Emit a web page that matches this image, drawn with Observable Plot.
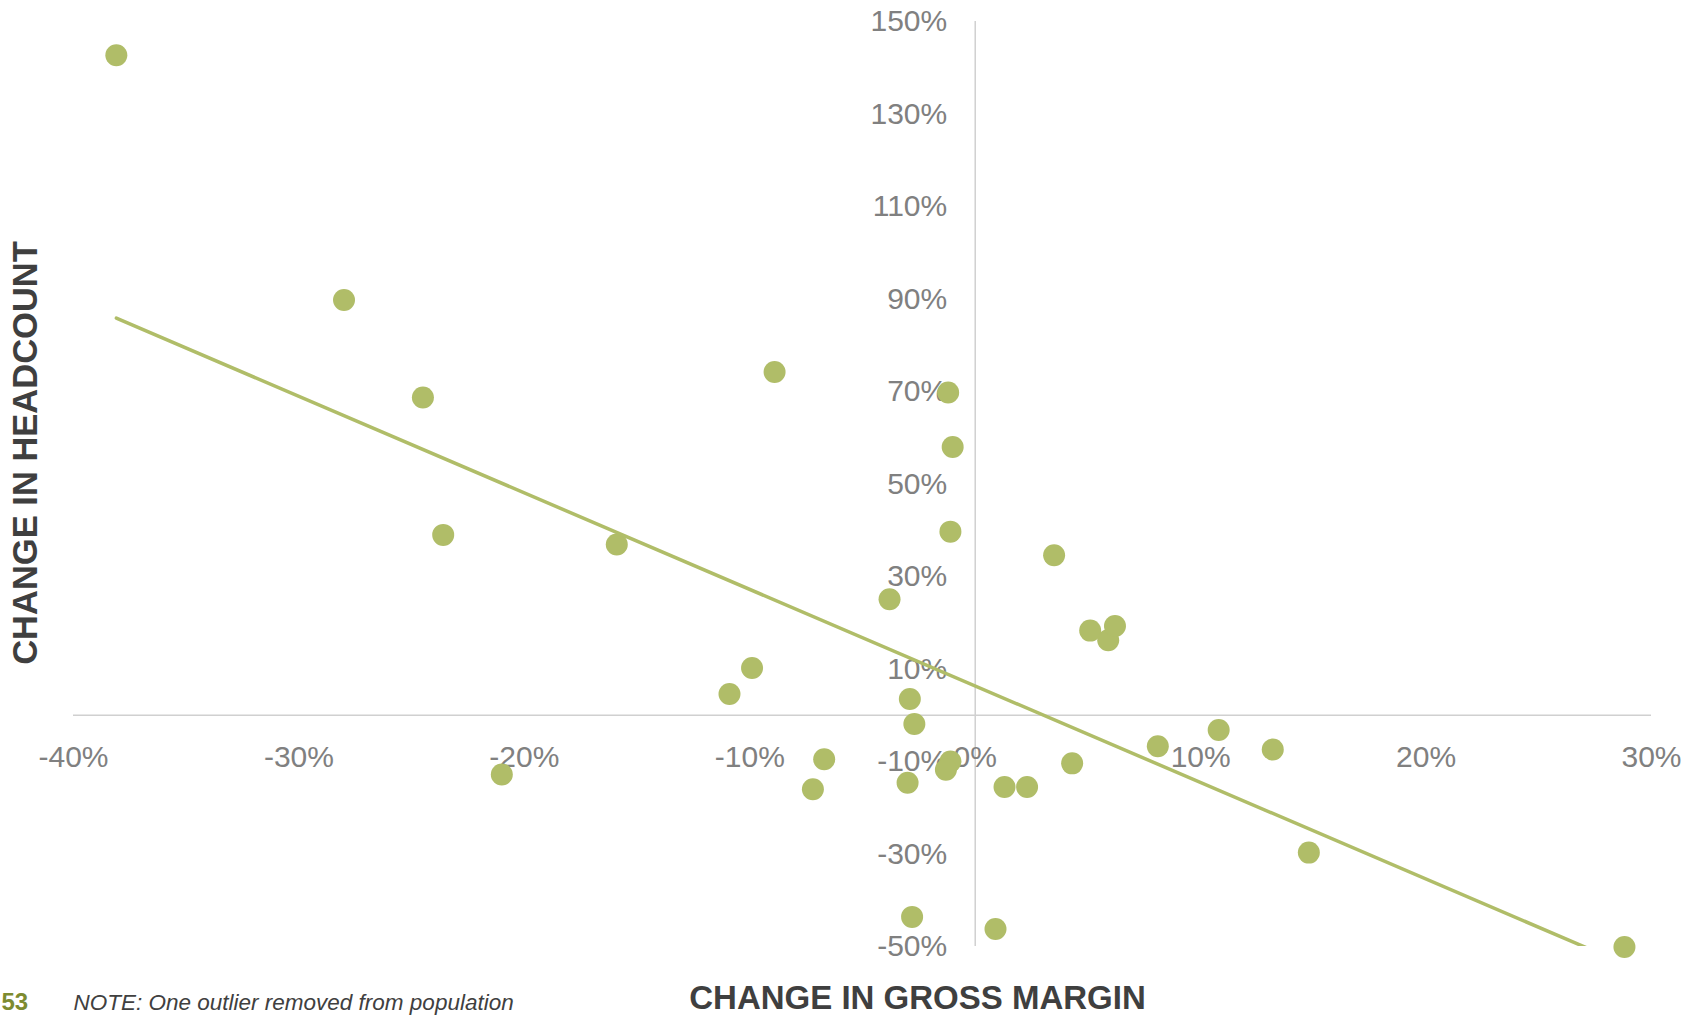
<!DOCTYPE html>
<html>
<head>
<meta charset="utf-8">
<script src="https://cdn.jsdelivr.net/npm/d3@7"></script>
<script src="https://cdn.jsdelivr.net/npm/@observablehq/plot@0.6"></script>
<style>
  html, body { margin: 0; padding: 0; background: #ffffff; overflow: hidden; }
  #chart svg { display: block; overflow: visible; }
</style>
</head>
<body>
<div id="chart"></div>
<script>
// Change in gross margin (%) per company
const gmChange = [-38.1, -28.0, -24.5, -23.6, -21.0, -15.9, -10.9, -9.9, -8.9, -6.7, -7.2,
  -3.8, -2.9, -2.7, -3.0, -2.8, -1.2, -1.0, -1.1, -1.1, -1.3, 1.3, 2.3, 0.9,
  3.5, 4.3, 5.1, 5.9, 6.2, 8.1, 10.8, 13.2, 14.8, 28.8];
// Change in headcount (%) per company
const hcChange = [142.7, 89.8, 68.7, 39.0, -12.8, 36.9, 4.6, 10.2, 74.2, -9.5, -16.0,
  25.1, 3.5, -1.9, -14.6, -43.6, 69.8, 58.0, 39.7, -10.0, -11.8, -15.5, -15.5, -46.2,
  34.6, -10.4, 18.3, 16.2, 19.3, -6.7, -3.2, -7.4, -29.7, -50.1];

const xTicks = [-40, -30, -20, -10, 0, 10, 20, 30];
const yTicks = [150, 130, 110, 90, 70, 50, 30, 10, -10, -30, -50];

const xTitle = "CHANGE IN GROSS MARGIN";
const yTitle = "CHANGE IN HEADCOUNT";
const note = "NOTE: One outlier removed from population";
const pageNumber = "53";

const data = gmChange.map((x, i) => ({x, y: hcChange[i]}));

const green = "#b0bd68";
const tickFont = "'Liberation Sans Narrow', 'Liberation Sans', sans-serif";
const titleFont = "'Liberation Sans', Arial, sans-serif";

const chart = Plot.plot({
  width: 1683,
  height: 1016,
  marginLeft: 73,
  marginRight: 32,
  marginTop: 21,
  marginBottom: 70,
  style: {background: "#ffffff", overflow: "visible"},
  x: {domain: [-40, 30], axis: null},
  y: {domain: [-50, 150], axis: null},
  marks: [
    Plot.ruleX([0], {stroke: "#d0d0d0", strokeWidth: 1.5}),
    Plot.ruleY([0], {stroke: "#d0d0d0", strokeWidth: 1.5}),
    Plot.text(xTicks, {
      x: d => d, y: d => 0, dy: 42, text: d => `${d}%`,
      textAnchor: "middle", lineAnchor: "middle",
      fontFamily: tickFont, fontSize: 30, fill: "#808080"
    }),
    Plot.text(yTicks, {
      x: d => 0, y: d => d, dx: -28, text: d => `${d}%`,
      textAnchor: "end", lineAnchor: "middle",
      fontFamily: tickFont, fontSize: 30, fill: "#808080"
    }),
    Plot.dot(data, {x: "x", y: "y", r: 11, fill: green, stroke: "none"}),
    Plot.linearRegressionY(data, {x: "x", y: "y", stroke: green, strokeWidth: 3.5, ci: 0, clip: true}),
    Plot.text([xTitle], {
      frameAnchor: "bottom", dx: 55, dy: 62, text: d => d,
      textAnchor: "middle", lineAnchor: "bottom",
      fontFamily: titleFont, fontWeight: "bold", fontSize: 33, fill: "#3f3f3f"
    }),
    Plot.text([yTitle], {
      frameAnchor: "left", dx: -48, dy: -31, rotate: -90, text: d => d,
      textAnchor: "middle", lineAnchor: "middle",
      fontFamily: titleFont, fontWeight: "bold", fontSize: 34.5, fill: "#3f3f3f"
    }),
    Plot.text([note], {
      frameAnchor: "bottom-left", dx: 0, dy: 63, text: d => d,
      textAnchor: "start", lineAnchor: "bottom",
      fontFamily: titleFont, fontStyle: "italic", fontSize: 22.5, fill: "#404040"
    }),
    Plot.text([pageNumber], {
      frameAnchor: "bottom-left", dx: -72, dy: 63, text: d => d,
      textAnchor: "start", lineAnchor: "bottom",
      fontFamily: titleFont, fontWeight: "bold", fontSize: 24, fill: "#7d8b30"
    })
  ]
});

document.getElementById("chart").appendChild(chart);
</script>
</body>
</html>
